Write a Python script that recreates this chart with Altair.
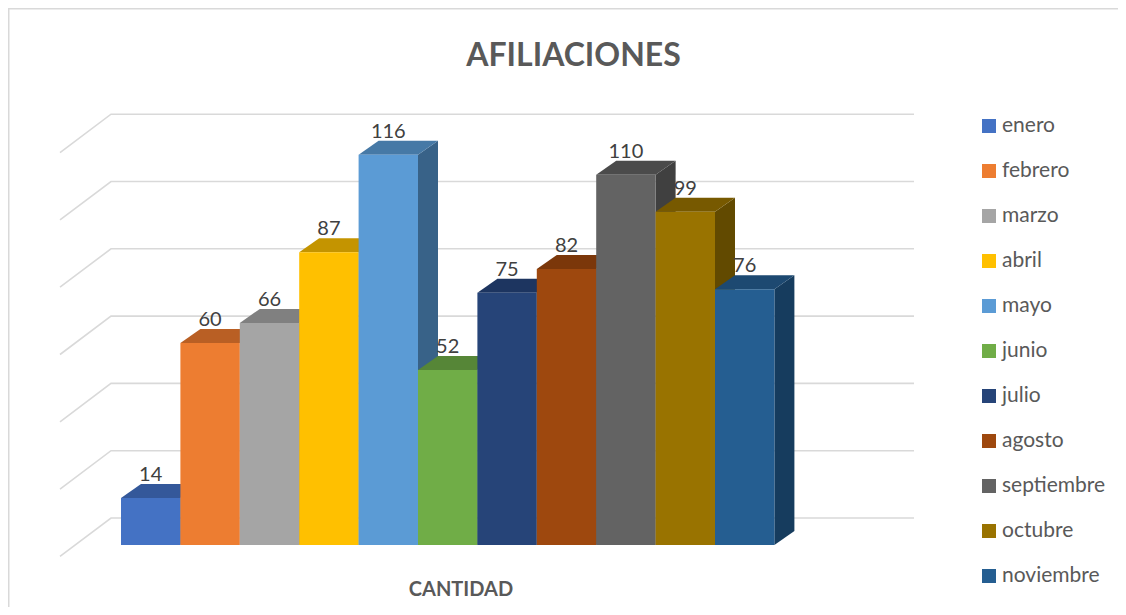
import altair as alt
import pandas as pd

# ---------------- data ----------------
months = ["enero", "febrero", "marzo", "abril", "mayo", "junio",
          "julio", "agosto", "septiembre", "octubre", "noviembre"]
values = [14, 60, 66, 87, 116, 52, 75, 82, 110, 99, 76]
grid_ticks = [0, 20, 40, 60, 80, 100, 120]

# ---------------- styles ----------------
front_colors = ["#4472C4", "#ED7D31", "#A5A5A5", "#FFC000", "#5B9BD5", "#70AD47",
                "#264478", "#9E480E", "#636363", "#997300", "#255E91"]
top_colors = ["#34589A", "#B95F24", "#808080", "#C49400", "#4679A6", "#568637",
              "#1D3560", "#7B370A", "#4B4B4B", "#775900", "#1D4971"]
side_colors = ["#2B4A80", "#9A4F1D", "#6B6B6B", "#A37B00", "#386288", "#476F2D",
               "#182C4F", "#662D08", "#404040", "#624A00", "#163C5E"]

FONT = "Lato"
PX_PER_UNIT = 3.365      # vertical pixels per unit
BAR_W = 59.4             # pixels per bar slot
X_LEFT = 113             # left edge of first bar (svg px)
BASE = 537               # baseline of front faces (svg px)
DX = 20 / BAR_W          # bar depth, horizontal (in x units)
DY = 14 / PX_PER_UNIT    # bar depth, vertical (in y units)
WALL_Y = 27 / PX_PER_UNIT
DIAG_DROP = 38.4 / PX_PER_UNIT
GRID_X = [(52 - X_LEFT) / BAR_W, (103 - X_LEFT) / BAR_W, (906 - X_LEFT) / BAR_W]

n = len(months)
xs = alt.Scale(domain=[0, n], range=[X_LEFT, X_LEFT + n * BAR_W], zero=False, nice=False)
ys = alt.Scale(domain=[0, 120], range=[BASE, BASE - 120 * PX_PER_UNIT], zero=False, nice=False)

# ---------------- tables ----------------
front = pd.DataFrame({
    "month": months, "v": values,
    "x0": list(range(n)), "x1": [i + 1 for i in range(n)],
    "xc": [i + 0.5 for i in range(n)],
    "zero": [0] * n, "vtop": [v + DY for v in values],
    "c": front_colors,
})

side_rows, top_rows = [], []
for i, (m, v) in enumerate(zip(months, values)):
    side_rows.append({"month": m, "x": i + 1, "lo": 0, "hi": v, "c": side_colors[i]})
    side_rows.append({"month": m, "x": i + 1 + DX, "lo": DY, "hi": v + DY, "c": side_colors[i]})
    top_rows.append({"month": m, "y": v, "xa": i, "xb": i + 1, "c": top_colors[i]})
    top_rows.append({"month": m, "y": v + DY, "xa": i + DX, "xb": i + 1 + DX, "c": top_colors[i]})
side = pd.DataFrame(side_rows)
top = pd.DataFrame(top_rows)

grid_rows = []
for t in grid_ticks:
    grid_rows.append({"t": t, "k": 0, "x": GRID_X[0], "y": t + WALL_Y - DIAG_DROP})
    grid_rows.append({"t": t, "k": 1, "x": GRID_X[1], "y": t + WALL_Y})
    grid_rows.append({"t": t, "k": 2, "x": GRID_X[2], "y": t + WALL_Y})
grid = pd.DataFrame(grid_rows)

legend_df = pd.DataFrame({"month": months, "c": front_colors})

# ---------------- layers ----------------
grid_layer = alt.Chart(grid).mark_line(color="#D9D9D9", strokeWidth=1.6).encode(
    x=alt.X("x:Q", scale=xs, axis=None),
    y=alt.Y("y:Q", scale=ys, axis=None),
    detail="t:N",
    order="k:Q",
)

side_layer = alt.Chart(side).mark_area(orient="vertical", opacity=1).encode(
    x=alt.X("x:Q", scale=xs, axis=None),
    y=alt.Y("lo:Q", scale=ys, axis=None),
    y2="hi:Q",
    detail="month:N",
    color=alt.Color("c:N", scale=None),
)

top_layer = alt.Chart(top).mark_area(orient="horizontal", opacity=1).encode(
    y=alt.Y("y:Q", scale=ys, axis=None),
    x=alt.X("xa:Q", scale=xs, axis=None),
    x2="xb:Q",
    detail="month:N",
    color=alt.Color("c:N", scale=None),
)

front_layer = alt.Chart(front).mark_rect().encode(
    x=alt.X("x0:Q", scale=xs, axis=None),
    x2="x1:Q",
    y=alt.Y("zero:Q", scale=ys, axis=None),
    y2="v:Q",
    color=alt.Color("c:N", scale=None),
)

labels = alt.Chart(front).mark_text(
    font=FONT, fontSize=20, color="#404040", baseline="alphabetic", dy=-3
).encode(
    x=alt.X("xc:Q", scale=xs, axis=None),
    y=alt.Y("vtop:Q", scale=ys, axis=None),
    text="v:Q",
)

leg_y = alt.Scale(type="point", domain=months, range=[118, 568], padding=0)
leg_sq = alt.Chart(legend_df).mark_square(size=196, opacity=1, filled=True).encode(
    x=alt.value(981),
    y=alt.Y("month:N", scale=leg_y, axis=None, sort=months),
    color=alt.Color("c:N", scale=None),
)
leg_txt = alt.Chart(legend_df).mark_text(
    font=FONT, fontSize=21, color="#595959", align="left", baseline="middle"
).encode(
    x=alt.value(994),
    y=alt.Y("month:N", scale=leg_y, axis=None, sort=months),
    text="month:N",
)

title = alt.Chart(pd.DataFrame({"t": ["AFILIACIONES"]})).mark_text(
    font=FONT, fontSize=32, fontWeight="bold", color="#595959", baseline="alphabetic"
).encode(x=alt.value(565.5), y=alt.value(58), text="t:N")

xlabel = alt.Chart(pd.DataFrame({"t": ["CANTIDAD"]})).mark_text(
    font=FONT, fontSize=20, fontWeight="bold", color="#595959", baseline="alphabetic"
).encode(x=alt.value(453), y=alt.value(588), text="t:N")

one = pd.DataFrame({"a": [0]})
border_top = alt.Chart(one).mark_rule(color="#D9D9D9", strokeWidth=1.5).encode(
    x=alt.value(0), x2=alt.value(1110), y=alt.value(0.75))
border_left = alt.Chart(one).mark_rule(color="#D9D9D9", strokeWidth=1.5).encode(
    x=alt.value(0.75), y=alt.value(0), y2=alt.value(599))

chart = alt.layer(
    border_top, border_left, grid_layer, side_layer, top_layer, front_layer,
    labels, leg_sq, leg_txt, title, xlabel,
).resolve_scale(y="independent").properties(
    width=1110, height=599,
    autosize=alt.AutoSizeParams(type="none"),
    padding=0,
    background="white",
).configure_view(stroke=None)

chart.save("out.html", embed_options={"renderer": "svg", "actions": False})
